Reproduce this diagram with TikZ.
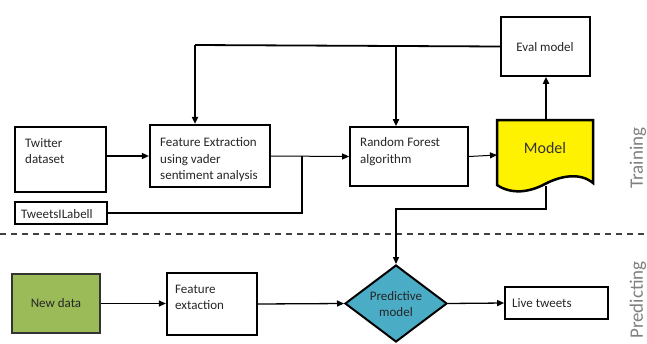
\documentclass[tikz,border=0pt]{standalone}
\usepackage{fontspec}
\setmainfont{Carlito}
\usetikzlibrary{arrows.meta,shapes.geometric}
\begin{document}
\begin{tikzpicture}[x=1pt,y=-1pt,
 box/.style={draw=black, line width=2.2pt, fill=white, inner sep=0pt},
 thinbox/.style={draw=black, line width=1.7pt, fill=white, inner sep=0pt},
 txt/.style={inner sep=0pt, align=left, font=\fontsize{13}{16.5}\selectfont, text=black!85},
 side/.style={inner sep=0pt, rotate=90, font=\fontsize{19}{22}\selectfont, text=black!50},
 arr/.style={-{Triangle[length=7pt,width=6pt]}, line width=1.3pt},
 fb/.style={line width=1.8pt},
]
\useasboundingbox (0,0) rectangle (647,343);

% training row
\node[box, minimum width=91pt, minimum height=65pt] (tw) at (60.5,159.5) {};
\node[txt, anchor=west] (twt) at (25,151) {Twitter\\dataset};
\node[box, minimum width=120pt, minimum height=62pt] (fe) at (210,156) {};
\node[txt, anchor=west] (fet) at (160,160) {Feature Extraction\\using vader\\sentiment analysis};
\node[box, minimum width=92pt, minimum height=22pt] (tl) at (61,213) {};
\node[txt, anchor=west] (tlt) at (21,214) {TweetsILabell};
\node[thinbox, minimum width=118pt, minimum height=59pt] (rf) at (409,156.5) {};
\node[txt, anchor=west] (rft) at (360,151.5) {Random Forest\\algorithm};
\node[thinbox, minimum width=89pt, minimum height=59pt] (ev) at (545.5,46.5) {};
\node[txt] (evt) at (545,47) {Eval model};

% model document shape
\draw[line width=2.5pt, fill=yellow, line join=miter]
  (497,120) -- (593,120) -- (593,183)
  .. controls (580,172) and (560,176) .. (545,184)
  .. controls (530,192) and (512,195) .. (497,185) -- cycle;
\node[txt, font=\fontsize{16}{19}\selectfont, text=black!80] (mdl) at (545,148) {Model};
\coordinate (mw) at (497,155);
\coordinate (mn) at (546,120);
\coordinate (ms) at (546,186);
\coordinate (mj) at (396,209);

% side labels
\node[side] (tr) at (638,158) {Training};
\node[side] (pr) at (638,300) {Predicting};

% dashed separator
\coordinate (dl) at (0,234);
\coordinate (dr) at (647,234);
\draw[dash pattern=on 6pt off 5pt, line width=1.3pt, black!75] (dl) -- (dr);

% predicting row
\node[draw=black!80, line width=1.5pt, fill={rgb,255:red,155;green,187;blue,89}, minimum width=88pt, minimum height=59pt, inner sep=0pt] (nd) at (56,303.5) {};
\node[txt] (ndt) at (56,303) {New data};
\node[box, minimum width=90pt, minimum height=62pt] (fe2) at (212,304) {};
\node[txt, anchor=west, font=\fontsize{13}{15.5}\selectfont] (fe2t) at (175,297.5) {Feature\\extaction};
\node[diamond, draw=black, line width=2pt, fill={rgb,255:red,75;green,172;blue,198}, minimum width=102pt, minimum height=77pt, inner sep=0pt] (pm) at (396,303.5) {};
\node[txt, align=center, font=\fontsize{13}{16}\selectfont] (pmt) at (396,304) {Predictive\\model};
\node[thinbox, minimum width=103pt, minimum height=32pt] (lt) at (556.5,303) {};
\node[txt, anchor=west] (ltt) at (512,303) {Live tweets};

% connectors - training
\draw[arr] (fe.west -| tw.east) -- (fe.west);
\coordinate (jn) at (302,156);
\draw[arr, line width=1pt] (fe.east) -- (rf.west);
\draw[fb] (tl.east) -| (jn);
\draw[arr, line width=1pt] (rf.east) -- (mw);
\draw[arr, line width=1.8pt] (mn) -- (ev.south -| mn);
\coordinate (fbL) at (195,45);
\coordinate (fbM) at (396,45);
\draw[fb] (ev.west) -- (fbL);
\draw[arr, line width=1.8pt] (fbL) -- (fe.north -| fbL);
\draw[arr, line width=1.8pt] (fbM) -- (rf.north -| fbM);
\draw[arr, line width=1.5pt] (ms) |- (mj) -- (pm.north);

% connectors - predicting
\draw[arr] (nd.east) -- (fe2.west |- nd.east);
\draw[arr] (fe2.east) -- (pm.west);
\draw[arr] (pm.east) -- (lt.west);
\end{tikzpicture}
\end{document}
